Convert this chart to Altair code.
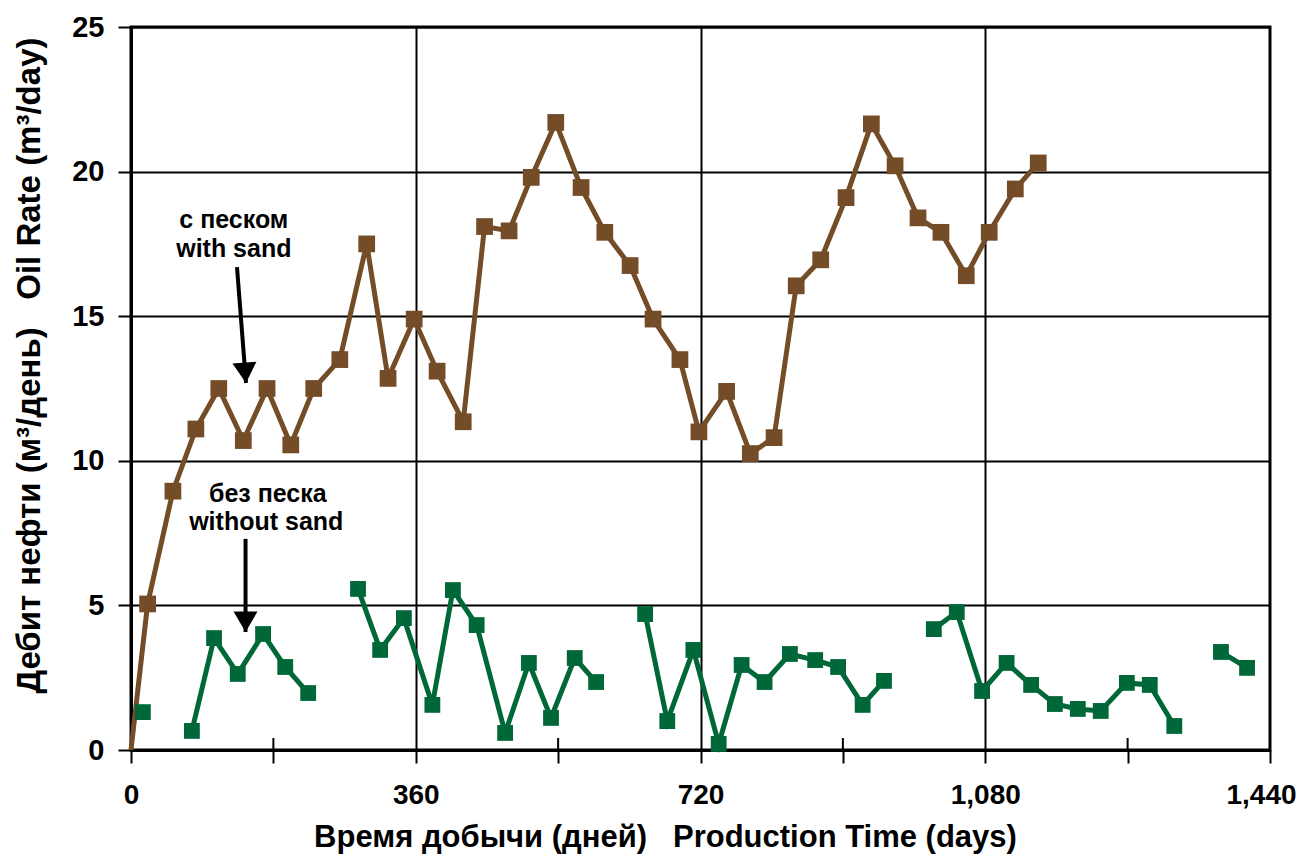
import altair as alt
import pandas as pd

# ---- data ----
brown_days = [0, 21, 53, 82, 111, 142, 172, 202, 231, 264, 298, 325, 358, 387, 420,
              447, 478, 506, 537, 569, 599, 631, 660, 694, 718, 753, 783, 813, 841,
              872, 904, 936, 966, 995, 1024, 1056, 1085, 1118, 1147]
brown_rate = [0, 5.05, 8.95, 11.1, 12.5, 10.7, 12.5, 10.55, 12.5, 13.5, 17.5, 12.85,
              14.9, 13.1, 11.35, 18.1, 17.95, 19.8, 21.7, 19.45, 17.9, 16.75, 14.9,
              13.5, 11.0, 12.4, 10.25, 10.8, 16.05, 16.95, 19.1, 21.65, 20.2, 18.4,
              17.9, 16.4, 17.9, 19.4, 20.3]

# None marks a gap in the green series
green_days = [15, None, 77, 105, 135, 167, 195, 224, None, 287, 315, 345, 381, 407,
              437, 473, 503, 531, 561, 588, None, 650, 678, 711, 743, 772, 801, 833,
              865, 894, 925, 952, None, 1015, 1044, 1076, 1107, 1138, 1168, 1197, 1226,
              1259, 1288, 1319, None, 1378, 1411]
green_rate = [1.31, None, 0.66, 3.87, 2.63, 4.01, 2.87, 1.97, None, 5.57, 3.46, 4.56,
              1.56, 5.53, 4.32, 0.59, 3.01, 1.11, 3.18, 2.35, None, 4.7, 1.0, 3.46,
              0.21, 2.94, 2.35, 3.32, 3.11, 2.87, 1.56, 2.39, None, 4.18, 4.77, 2.04,
              3.01, 2.25, 1.59, 1.42, 1.35, 2.32, 2.25, 0.83, None, 3.39, 2.84]

x_tick_values = [0, 180, 360, 540, 720, 900, 1080, 1260, 1440]
minor_tick_days = [180, 540, 900, 1260]
y_tick_values = [0, 5, 10, 15, 20, 25]

annot_text = ["с песком", "with sand", "без песка", "without sand"]
annot_day = [130, 130, 173, 171]
annot_rate = [18.05, 17.05, 8.58, 7.61]

arrow_start_day = [134, 144.8]
arrow_start_rate = [16.7, 7.3]
arrow_tip_day = [145.4, 144.8]
arrow_tip_rate = [12.69, 4.08]
arrow_angle = [355.6, 0]

SP = "\u00a0\u00a0\u00a0"
x_title = "Время добычи (дней)" + SP + "Production Time (days)"
y_title = "Дебит нефти (м³/день)" + SP + "Oil Rate (m³/day)"

# ---- tables ----
brown = pd.DataFrame({"day": brown_days, "rate": brown_rate})
rows, seg = [], 0
for d, r in zip(green_days, green_rate):
    if d is None:
        seg += 1
        continue
    rows.append({"day": d, "rate": r, "seg": seg})
green = pd.DataFrame(rows)
annot = pd.DataFrame({"day": annot_day, "rate": annot_rate, "text": annot_text})
arrows = pd.DataFrame({"day": arrow_start_day, "rate": arrow_start_rate,
                       "tday": arrow_tip_day, "trate": arrow_tip_rate,
                       "angle": arrow_angle})
minor = pd.DataFrame({"day": minor_tick_days})

W, H = 1139, 723
FONT = "Liberation Sans"
BROWN = "#744C28"
GREEN = "#006838"

x_scale = alt.Scale(domain=[0, 1440], nice=False, zero=False)
y_scale = alt.Scale(domain=[0, 25], nice=False)

x_axis = alt.Axis(
    values=x_tick_values,
    labelExpr="datum.value % 360 === 0 ? format(datum.value, ',') : ''",
    grid=True,
    gridColor="black", gridWidth=2,
    gridOpacity={"condition": {"test": "datum.value % 360 === 0 && datum.value > 0 && datum.value < 1440", "value": 1}, "value": 0},
    domainColor="black", domainWidth=3,
    tickColor="black", tickWidth=2, tickSize=13,
    labelFont=FONT, labelFontSize=28, labelFontWeight="bold", labelColor="black",
    labelPadding=18, labelFlush=False, labelOverlap=False, labelBound=False,
    labelOffset={"condition": {"test": "datum.value === 1440", "value": -9}, "value": 0},
    title=x_title, titleFont=FONT, titleFontSize=31, titleFontWeight="bold",
    titleColor="black", titlePadding=13, titleX=534,
)
y_axis = alt.Axis(
    values=y_tick_values,
    grid=True, gridColor="black", gridWidth=2,
    domainColor="black", domainWidth=3,
    tickColor="black", tickWidth=2, tickSize=13,
    labelFont=FONT, labelFontSize=29, labelFontWeight="bold", labelColor="black",
    labelPadding=14, labelFlush=False,
    title=y_title, titleFont=FONT, titleFontSize=33, titleFontWeight="bold",
    titleColor="black", titlePadding=25, titleY=338,
)

X = alt.X("day:Q", scale=x_scale, axis=x_axis)
Y = alt.Y("rate:Q", scale=y_scale, axis=y_axis)

minor_ticks = alt.Chart(minor).mark_rule(color="black", strokeWidth=2).encode(
    x=X, y=alt.value(H - 12), y2=alt.value(H))

brown_line = alt.Chart(brown).mark_line(color=BROWN, strokeWidth=5).encode(x=X, y=Y)
brown_pts = alt.Chart(brown).transform_filter("datum.day > 0").mark_point(
    shape="square", filled=True, size=280, color=BROWN, opacity=1).encode(x=X, y=Y)

green_line = alt.Chart(green).mark_line(color=GREEN, strokeWidth=5).encode(
    x=X, y=Y, detail="seg:N")
green_pts = alt.Chart(green).mark_point(
    shape="square", filled=True, size=250, color=GREEN, opacity=1).encode(x=X, y=Y)

shafts = alt.Chart(arrows).mark_rule(color="black", strokeWidth=4).encode(
    x=X, y=Y, x2="tday:Q", y2="trate:Q")
heads = alt.Chart(arrows).mark_point(
    shape="M-1,-1.7L1,-1.7L0,0Z", filled=True, size=576, color="black", opacity=1
).encode(x=alt.X("tday:Q", scale=x_scale, axis=x_axis),
         y=alt.Y("trate:Q", scale=y_scale, axis=y_axis),
         angle=alt.Angle("angle:Q", scale=None))

labels = alt.Chart(annot).mark_text(
    font=FONT, fontSize=25, fontWeight="bold", color="black",
    align="center", baseline="alphabetic").encode(x=X, y=Y, text="text:N")

chart = alt.layer(
    minor_ticks, brown_line, brown_pts, green_line, green_pts, shafts, heads, labels
).properties(
    width=W, height=H,
    autosize=alt.AutoSizeParams(type="none"),
    padding={"left": 123, "top": 19, "right": 27, "bottom": 104},
).configure_view(stroke="black", strokeWidth=3)

chart.save("out.html", embed_options={"renderer": "svg", "actions": False})
